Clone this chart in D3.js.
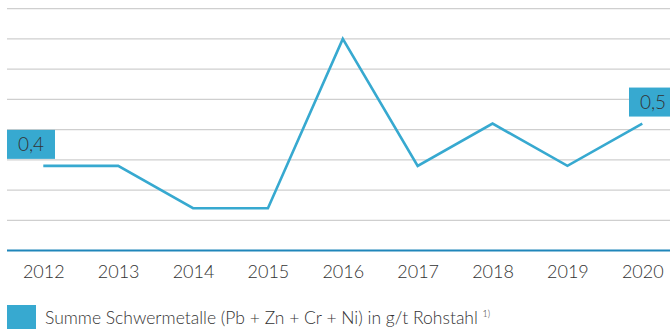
<!DOCTYPE html>
<html>
<head>
<meta charset="utf-8">
<script src="https://cdn.jsdelivr.net/npm/d3@7"></script>
<style>
  body { margin: 0; background: #fff; }
  svg { display: block; }
  text { font-family: Lato, "Open Sans", sans-serif; font-weight: 300; }
</style>
</head>
<body>
<svg id="chart" width="670" height="329"></svg>
<script>
// Heavy metal load per tonne of crude steel, 2012–2020
const years = ["2012", "2013", "2014", "2015", "2016", "2017", "2018", "2019", "2020"];
const values = [0.4, 0.4, 0.3, 0.3, 0.7, 0.4, 0.5, 0.4, 0.5];
const valueLabels = [
  { year: "2012", text: "0,4", side: "left" },
  { year: "2020", text: "0,5", side: "right" }
];
const seriesName = "Summe Schwermetalle (Pb + Zn + Cr + Ni) in g/t Rohstahl";
const footnote = "1)";
const yBase = 0.2;
const gridStep = 1 / 14;
const gridCount = 8;

const blue = "#37a9d0";
const axisBlue = "#1f86ba";
const textColor = "#333";

const svg = d3.select("#chart");

const x = d3.scalePoint().domain(years).range([43.3, 642.3]);
const y = d3.scaleLinear()
  .domain([yBase, yBase + gridStep * gridCount])
  .range([250.5, 8.7]);

// horizontal gridlines
const gridVals = d3.range(1, gridCount + 1).map(k => yBase + k * gridStep);
svg.append("g")
  .selectAll("line")
  .data(gridVals)
  .join("line")
  .attr("x1", 7).attr("x2", 670)
  .attr("y1", d => y(d)).attr("y2", d => y(d))
  .attr("stroke", "#cfcfcf")
  .attr("stroke-width", 1.3);

// baseline
svg.append("line")
  .attr("x1", 7).attr("x2", 670)
  .attr("y1", y(yBase)).attr("y2", y(yBase))
  .attr("stroke", axisBlue)
  .attr("stroke-width", 2.2);

// x axis labels
const xAxis = d3.axisBottom(x).tickSize(0).tickPadding(0);
const gx = svg.append("g")
  .attr("transform", `translate(0,${y(yBase)})`)
  .call(xAxis);
gx.select(".domain").remove();
gx.selectAll("text")
  .attr("y", 27)
  .attr("dy", 0)
  .attr("fill", textColor)
  .attr("font-size", 18)
  .attr("font-weight", 300)
  .attr("font-family", "Lato, 'Open Sans', sans-serif");

// series line
const line = d3.line()
  .x((d, i) => x(years[i]))
  .y(d => y(d));
svg.append("path")
  .datum(values)
  .attr("d", line)
  .attr("fill", "none")
  .attr("stroke", blue)
  .attr("stroke-width", 2.6)
  .attr("stroke-linejoin", "miter");

// value callouts
const boxW = 48, boxH = 29;
const callouts = svg.append("g")
  .selectAll("g")
  .data(valueLabels)
  .join("g")
  .attr("transform", d => {
    const i = years.indexOf(d.year);
    const px = x(d.year), py = y(values[i]);
    const bx = d.side === "left" ? px - 36.3 : px - 13.3;
    return `translate(${bx},${py - 7 - boxH})`;
  });
callouts.append("rect")
  .attr("width", boxW).attr("height", boxH)
  .attr("fill", blue);
callouts.append("text")
  .attr("x", boxW / 2)
  .attr("y", boxH / 2 + 6.5)
  .attr("text-anchor", "middle")
  .attr("fill", textColor)
  .attr("font-size", 19)
  .text(d => d.text);

// legend
const legend = svg.append("g").attr("transform", "translate(7,305)");
legend.append("rect")
  .attr("width", 29).attr("height", 29)
  .attr("fill", blue);
const lt = legend.append("text")
  .attr("x", 38)
  .attr("y", 19)
  .attr("fill", textColor)
  .attr("font-size", 17.5);
lt.append("tspan").text(seriesName + "  ");
lt.append("tspan")
  .attr("font-size", 9)
  .attr("dy", -7)
  .text(footnote);
</script>
</body>
</html>
